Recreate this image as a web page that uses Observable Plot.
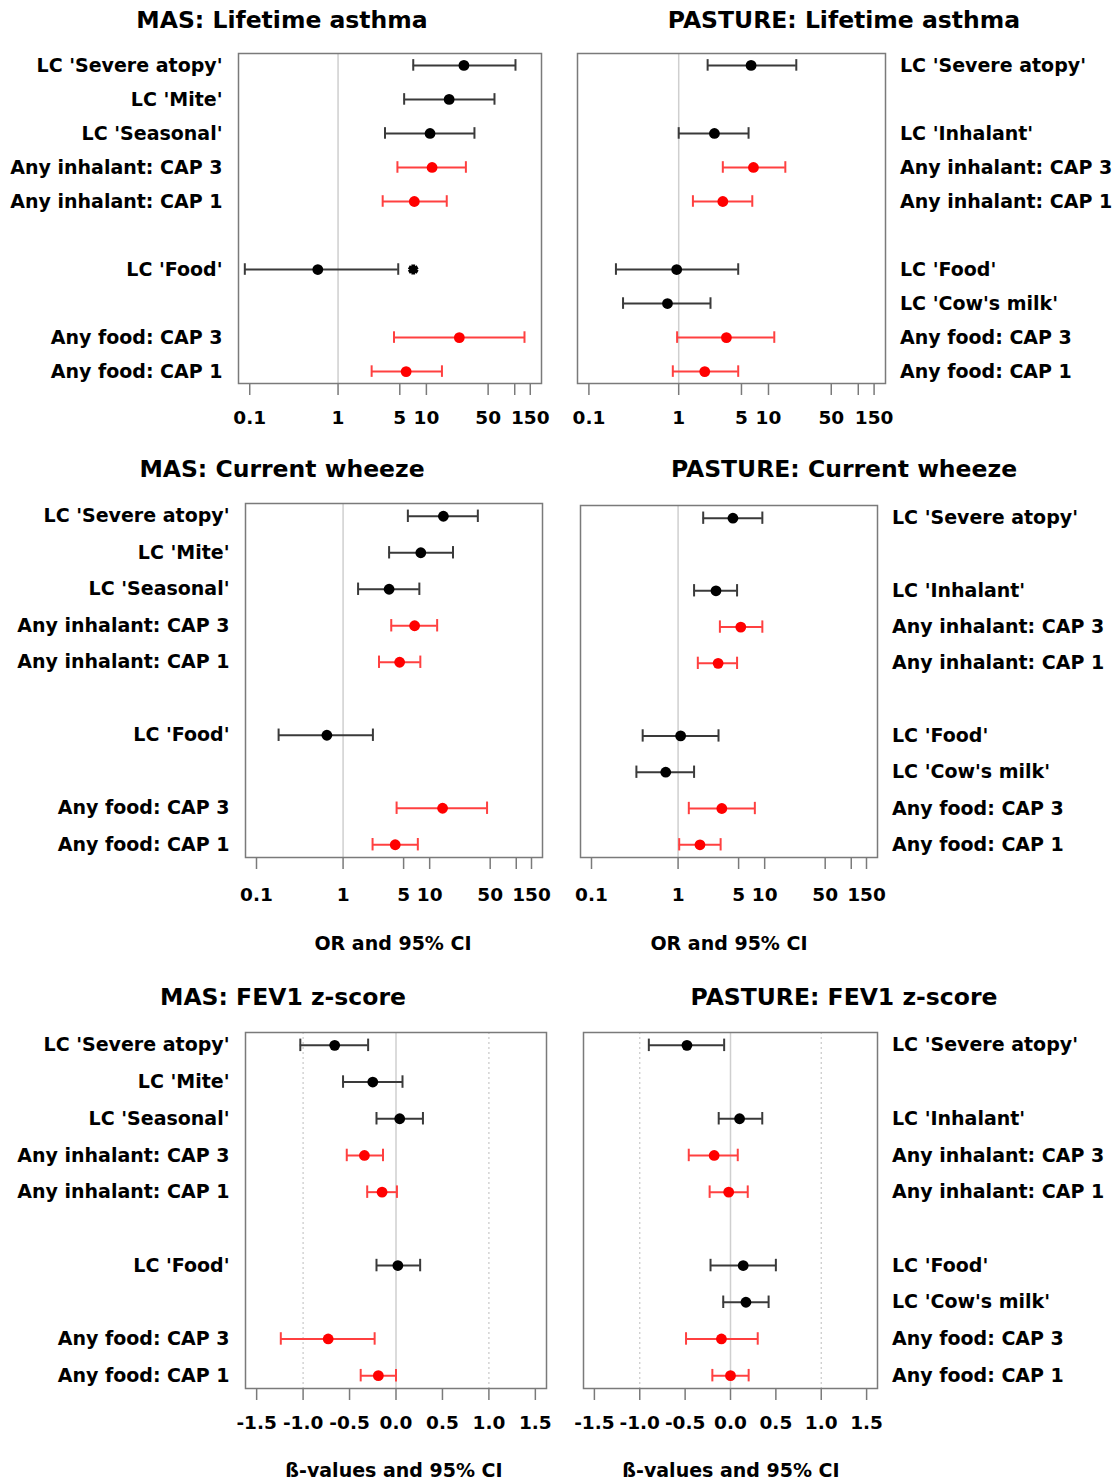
<!DOCTYPE html>
<html><head><meta charset="utf-8">
<script src="https://cdn.jsdelivr.net/npm/d3@7"></script>
<script src="https://cdn.jsdelivr.net/npm/@observablehq/plot@0.6"></script>
<style>
body{margin:0;background:#fff;}
#root{position:relative;width:1115px;height:1483px;font-family:"DejaVu Sans",sans-serif;font-weight:700;color:#000;overflow:hidden;}
.t{position:absolute;transform:translate(-50%,-50%);white-space:nowrap;line-height:1;}
.title{font-size:23.5px;}
.axt{font-size:19px;}
.pn{position:absolute;}
.pn svg{overflow:visible;}
</style></head><body><div id="root"></div>
<script>
// ---------- data ----------
const masLabels = ["LC 'Severe atopy'","LC 'Mite'","LC 'Seasonal'","Any inhalant: CAP 3","Any inhalant: CAP 1","","LC 'Food'","","Any food: CAP 3","Any food: CAP 1"];
const pastureLabels = ["LC 'Severe atopy'","","LC 'Inhalant'","Any inhalant: CAP 3","Any inhalant: CAP 1","","LC 'Food'","LC 'Cow's milk'","Any food: CAP 3","Any food: CAP 1"];
const masRows = [1,2,3,4,5,7,9,10];
const pastureRows = [1,3,4,5,7,8,9,10];
const masGroup = ["LC","LC","LC","CAP","CAP","LC","CAP","CAP"];
const pastureGroup = ["LC","LC","CAP","CAP","LC","LC","CAP","CAP"];

// MAS: Lifetime asthma (OR)
const masAsthmaEst  = [26.6, 18.1, 11.0, 11.6, 7.3, 0.59, 23.6, 5.9];
const masAsthmaLow  = [7.1, 5.6, 3.4, 4.7, 3.2, 0.088, 4.3, 2.4];
const masAsthmaHigh = [102, 59, 35, 28, 17, 4.8, 129, 15];
const masAsthmaMarkRow = [7];
const masAsthmaMarkX = [7.1];
// PASTURE: Lifetime asthma (OR)
const pastAsthmaEst  = [6.4, 2.5, 6.8, 3.1, 0.95, 0.75, 3.4, 1.95];
const pastAsthmaLow  = [2.1, 1.0, 3.1, 1.44, 0.2, 0.24, 0.96, 0.86];
const pastAsthmaHigh = [20.4, 6.0, 15.4, 6.6, 4.6, 2.26, 11.6, 4.6];
// MAS: Current wheeze (OR)
const masWheezeEst  = [14.4, 7.9, 3.4, 6.7, 4.5, 0.65, 14.1, 4.0];
const masWheezeLow  = [5.6, 3.4, 1.49, 3.6, 2.6, 0.18, 4.15, 2.19];
const masWheezeHigh = [36, 18.6, 7.6, 12.2, 7.8, 2.21, 46, 7.3];
// PASTURE: Current wheeze (OR)
const pastWheezeEst  = [4.3, 2.74, 5.3, 2.9, 1.07, 0.72, 3.2, 1.79];
const pastWheezeLow  = [1.95, 1.53, 3.04, 1.69, 0.39, 0.33, 1.33, 1.03];
const pastWheezeHigh = [9.4, 4.8, 9.4, 4.8, 2.93, 1.53, 7.7, 3.1];
// MAS: FEV1 z-score (beta)
const masFevEst  = [-0.66, -0.25, 0.04, -0.34, -0.15, 0.02, -0.73, -0.19];
const masFevLow  = [-1.03, -0.57, -0.21, -0.53, -0.31, -0.21, -1.24, -0.38];
const masFevHigh = [-0.30, 0.07, 0.29, -0.14, 0.01, 0.26, -0.23, 0.0];
// PASTURE: FEV1 z-score (beta)
const pastFevEst  = [-0.48, 0.10, -0.18, -0.02, 0.14, 0.17, -0.10, 0.0];
const pastFevLow  = [-0.90, -0.13, -0.46, -0.23, -0.22, -0.08, -0.49, -0.20];
const pastFevHigh = [-0.07, 0.35, 0.08, 0.19, 0.50, 0.42, 0.30, 0.20];

// axis ticks
const orTicks = [0.1, 1, 5, 10, 50, 100, 150];
const orTickLabels = ["0.1", "1", "5", "10", "50", "", "150"];
const betaTicks = [-1.5, -1, -0.5, 0, 0.5, 1, 1.5];
const betaTickLabels = ["-1.5", "-1.0", "-0.5", "0.0", "0.5", "1.0", "1.5"];
const rowIds = [1,2,3,4,5,6,7,8,9,10];

const titles = ["MAS: Lifetime asthma","PASTURE: Lifetime asthma","MAS: Current wheeze","PASTURE: Current wheeze","MAS: FEV1 z-score","PASTURE: FEV1 z-score"];
const orTitle = "OR and 95% CI";
const betaTitle = "ß-values and 95% CI";

// ---------- drawing ----------
const root = document.getElementById("root");
const BLACK_BAR = "#3a3a3a", RED_BAR = "#ff4040";
const FONT = "'DejaVu Sans', sans-serif";

function panel(o) {
  const data = o.rows.map((r, i) => ({row: r, est: o.est[i], low: o.low[i], high: o.high[i], grp: o.group[i]}));
  const isLog = o.kind === "log";
  const lo = Math.log10(0.1), hi = Math.log10(150), pad = 0.04 * (hi - lo);
  const xDomain = isLog ? [10 ** (lo - pad), 10 ** (hi + pad)] : [-1.5 - 0.12, 1.5 + 0.12];
  const ticks = isLog ? orTicks : betaTicks;
  const tickLabels = isLog ? orTickLabels : betaTickLabels;
  const tickData = ticks.map((t, i) => ({t, label: tickLabels[i]}));
  const marks = [];
  if (!isLog) marks.push(Plot.ruleX([-1, 1], {stroke: "#c8c8c8", strokeWidth: 1.2, strokeDasharray: "2,3"}));
  marks.push(Plot.ruleX([isLog ? 1 : 0], {stroke: "#cfcfcf", strokeWidth: 1.5}));
  for (const [g, barColor, dotColor] of [["LC", BLACK_BAR, "#000"], ["CAP", RED_BAR, "#ff0000"]]) {
    const sub = data.filter(d => d.grp === g);
    marks.push(
      Plot.ruleY(sub, {y: "row", x1: "low", x2: "high", stroke: barColor, strokeWidth: 2}),
      Plot.ruleX(sub, {x: "low", y1: d => d.row - 0.17, y2: d => d.row + 0.17, stroke: barColor, strokeWidth: 2}),
      Plot.ruleX(sub, {x: "high", y1: d => d.row - 0.17, y2: d => d.row + 0.17, stroke: barColor, strokeWidth: 2}),
      Plot.dot(sub, {x: "est", y: "row", r: 5.4, fill: dotColor, stroke: null})
    );
  }
  if (o.markRow) {
    const m = o.markRow.map((r, i) => ({row: r, x: o.markX[i]}));
    marks.push(Plot.dot(m, {x: "x", y: "row", symbol: "asterisk", r: 4.8, stroke: "#000", strokeWidth: 3.8}));
  }
  marks.push(
    Plot.frame({stroke: "#7a7a7a", strokeWidth: 1.5}),
    Plot.axisX({ticks, tickFormat: () => "", tickSize: 12, tickPadding: 0, stroke: "#7a7a7a", strokeWidth: 1.5, label: null}),
    Plot.text(tickData, {x: "t", text: "label", frameAnchor: "bottom", dy: o.tickDy, lineAnchor: "middle", fill: "#000", fontSize: 18.5, fontWeight: 700, fontFamily: FONT}),
    Plot.axisY({ticks: rowIds, tickFormat: r => o.labels[r - 1], anchor: o.side, tickSize: 0, tickPadding: o.side === "left" ? 16 : 14.5, fill: "#000", label: null})
  );
  const svg = Plot.plot({
    width: o.width, height: o.height,
    marginLeft: o.frame[0] - o.left, marginRight: o.left + o.width - o.frame[1],
    marginTop: o.frame[2] - o.top, marginBottom: o.top + o.height - o.frame[3],
    x: {type: isLog ? "log" : "linear", domain: xDomain},
    y: {type: "linear", domain: [10.35, 0.65]},
    style: {fontFamily: FONT, fontWeight: 700, fontSize: "19px", color: "#000", background: "transparent", overflow: "visible"},
    marks
  });
  const div = document.createElement("div");
  div.className = "pn";
  div.style.left = o.left + "px";
  div.style.top = o.top + "px";
  div.appendChild(svg);
  root.appendChild(div);
}

function text(cls, s, x, y) {
  const d = document.createElement("div");
  d.className = "t " + cls;
  d.textContent = s;
  d.style.left = x + "px";
  d.style.top = y + "px";
  root.appendChild(d);
}

panel({left: 0, top: 40, width: 557, height: 400, frame: [238, 541, 53, 383], kind: "log", side: "left", tickDy: 35,
  labels: masLabels, rows: masRows, group: masGroup, est: masAsthmaEst, low: masAsthmaLow, high: masAsthmaHigh,
  markRow: masAsthmaMarkRow, markX: masAsthmaMarkX});
panel({left: 557, top: 40, width: 558, height: 400, frame: [577, 885, 53, 383], kind: "log", side: "right", tickDy: 35,
  labels: pastureLabels, rows: pastureRows, group: pastureGroup, est: pastAsthmaEst, low: pastAsthmaLow, high: pastAsthmaHigh});
panel({left: 0, top: 490, width: 557, height: 430, frame: [245, 542, 503, 857], kind: "log", side: "left", tickDy: 38,
  labels: masLabels, rows: masRows, group: masGroup, est: masWheezeEst, low: masWheezeLow, high: masWheezeHigh});
panel({left: 557, top: 490, width: 558, height: 430, frame: [580, 877, 505, 857], kind: "log", side: "right", tickDy: 38,
  labels: pastureLabels, rows: pastureRows, group: pastureGroup, est: pastWheezeEst, low: pastWheezeLow, high: pastWheezeHigh});
panel({left: 0, top: 1015, width: 557, height: 420, frame: [245, 546, 1032, 1388], kind: "linear", side: "left", tickDy: 35,
  labels: masLabels, rows: masRows, group: masGroup, est: masFevEst, low: masFevLow, high: masFevHigh});
panel({left: 557, top: 1015, width: 558, height: 420, frame: [583, 877, 1032, 1388], kind: "linear", side: "right", tickDy: 35,
  labels: pastureLabels, rows: pastureRows, group: pastureGroup, est: pastFevEst, low: pastFevLow, high: pastFevHigh});

text("title", titles[0], 282, 21);
text("title", titles[1], 844, 21);
text("title", titles[2], 282, 470);
text("title", titles[3], 844, 470);
text("title", titles[4], 283, 998);
text("title", titles[5], 844, 998);
text("axt", orTitle, 393, 943);
text("axt", orTitle, 729, 943);
text("axt", betaTitle, 394, 1470);
text("axt", betaTitle, 731, 1470);
</script></body></html>
